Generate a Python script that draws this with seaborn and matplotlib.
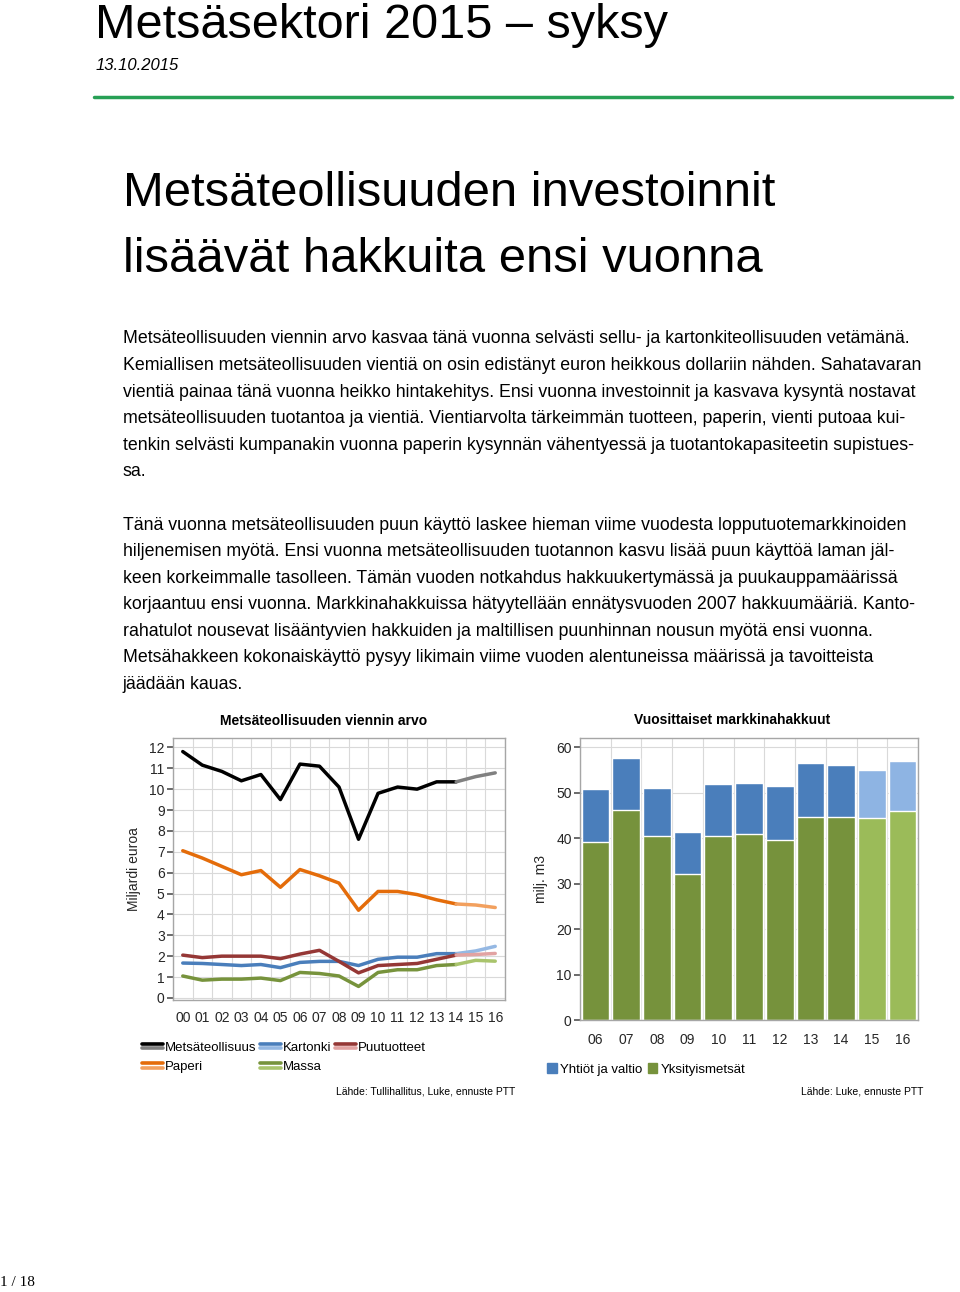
import numpy as np
import pandas as pd
import seaborn as sns
import matplotlib
matplotlib.use("Agg")
import matplotlib.pyplot as plt
from matplotlib.lines import Line2D
from matplotlib.patches import Patch
from matplotlib.legend_handler import HandlerBase

# --- DATA ---
YEARS_EXPORT = ["00", "01", "02", "03", "04", "05", "06", "07", "08",
                "09", "10", "11", "12", "13", "14", "15", "16"]
METSATEOLLISUUS = [11.8, 11.15, 10.85, 10.4, 10.7, 9.5, 11.2, 11.1, 10.1,
                   7.6, 9.8, 10.1, 10.0, 10.35, 10.35, 10.6, 10.78]
PAPERI = [7.05, 6.7, 6.3, 5.9, 6.1, 5.3, 6.15, 5.85, 5.5,
          4.2, 5.1, 5.1, 4.95, 4.7, 4.5, 4.45, 4.33]
PUUTUOTTEET = [2.05, 1.93, 2.0, 2.0, 2.0, 1.88, 2.1, 2.28, 1.75,
               1.2, 1.55, 1.6, 1.65, 1.85, 2.05, 2.08, 2.13]
KARTONKI = [1.67, 1.65, 1.6, 1.55, 1.6, 1.45, 1.7, 1.75, 1.75,
            1.55, 1.85, 1.95, 1.95, 2.12, 2.12, 2.25, 2.47]
MASSA = [1.05, 0.85, 0.9, 0.9, 0.95, 0.83, 1.22, 1.17, 1.05,
         0.55, 1.22, 1.35, 1.35, 1.55, 1.6, 1.8, 1.76]
FORECAST_START = 14  # index of "14": forecast drawn from here on

YEARS_HARVEST = ["06", "07", "08", "09", "10", "11", "12", "13", "14", "15", "16"]
YKSITYISMETSAT = [39.2, 46.2, 40.4, 32.0, 40.5, 40.8, 39.6, 44.6, 44.6, 44.5, 46.0]
YHTIOT_VALTIO = [11.5, 11.4, 10.6, 9.3, 11.4, 11.4, 11.9, 11.9, 11.4, 10.5, 11.0]
HARVEST_FORECAST = ["15", "16"]

SERIES = [
    ("Metsäteollisuus", METSATEOLLISUUS, "#000000", "#808080"),
    ("Paperi", PAPERI, "#e46c0a", "#f2a05e"),
    ("Kartonki", KARTONKI, "#4a7ebb", "#95b8e3"),
    ("Massa", MASSA, "#77933c", "#a9c46c"),
    ("Puutuotteet", PUUTUOTTEET, "#953735", "#e2a3a2"),
]

W, H = 960, 1292
FONT = ["Liberation Sans", "DejaVu Sans"]

sns.set_theme(style="whitegrid")
plt.rcParams["font.family"] = FONT
plt.rcParams["text.color"] = "black"
plt.rcParams["axes.labelcolor"] = "#262626"

fig = plt.figure(figsize=(W / 100, H / 100), dpi=100)


def fx(x):
    return x / W


def fy(y):
    return 1 - y / H


# --- page text ---
fig.text(fx(95), fy(25), "Metsäsektori 2015 – syksy", fontsize=35,
         va="center", ha="left")
fig.text(fx(96), fy(66), "13.10.2015", fontsize=12, style="italic",
         va="center", ha="left")
fig.add_artist(Line2D([fx(94), fx(952)], [fy(97), fy(97)], color="#27a055", lw=2.5))

fig.text(fx(123), fy(194), "Metsäteollisuuden investoinnit", fontsize=35.3,
         va="center", ha="left")
fig.text(fx(123), fy(260), "lisäävät hakkuita ensi vuonna", fontsize=35.3,
         va="center", ha="left")

para1 = [
    "Metsäteollisuuden viennin arvo kasvaa tänä vuonna selvästi sellu- ja kartonkiteollisuuden vetämänä.",
    "Kemiallisen metsäteollisuuden vientiä on osin edistänyt euron heikkous dollariin nähden. Sahatavaran",
    "vientiä painaa tänä vuonna heikko hintakehitys. Ensi vuonna investoinnit ja kasvava kysyntä nostavat",
    "metsäteollisuuden tuotantoa ja vientiä. Vientiarvolta tärkeimmän tuotteen, paperin, vienti putoaa kui-",
    "tenkin selvästi kumpanakin vuonna paperin kysynnän vähentyessä ja tuotantokapasiteetin supistues-",
    "sa.",
]
para2 = [
    "Tänä vuonna metsäteollisuuden puun käyttö laskee hieman viime vuodesta lopputuotemarkkinoiden",
    "hiljenemisen myötä. Ensi vuonna metsäteollisuuden tuotannon kasvu lisää puun käyttöä laman jäl-",
    "keen korkeimmalle tasolleen. Tämän vuoden notkahdus hakkuukertymässä ja puukauppamäärissä",
    "korjaantuu ensi vuonna. Markkinahakkuissa hätyytellään ennätysvuoden 2007 hakkuumääriä. Kanto-",
    "rahatulot nousevat lisääntyvien hakkuiden ja maltillisen puunhinnan nousun myötä ensi vuonna.",
    "Metsähakkeen kokonaiskäyttö pysyy likimain viime vuoden alentuneissa määrissä ja tavoitteista",
    "jäädään kauas.",
]
for i, line in enumerate(para1):
    fig.text(fx(123), fy(339 + i * 26.6), line, fontsize=12.8,
             va="center", ha="left")
for i, line in enumerate(para2):
    fig.text(fx(123), fy(525 + i * 26.6), line, fontsize=12.8,
             va="center", ha="left")

fig.text(fx(0), fy(1282), "1 / 18", fontsize=11, family=["Liberation Serif", "DejaVu Serif"],
         va="center", ha="left")

GRID = "#d9d9d9"
FRAME = "#a6a6a6"


def style_axes(ax, xpad):
    for s in ax.spines.values():
        s.set_color(FRAME)
        s.set_linewidth(1.0)
    ax.tick_params(axis="both", which="both", length=4, color="#595959",
                   labelsize=10, labelcolor="#262626", pad=2)
    ax.tick_params(axis="x", which="major", length=0, pad=xpad)
    ax.tick_params(axis="x", which="minor", length=4, color="#595959")
    ax.tick_params(axis="y", left=True)
    ax.grid(False, which="major", axis="x")
    ax.grid(True, which="minor", axis="x", color=GRID, lw=0.8)
    ax.grid(True, which="major", axis="y", color=GRID, lw=0.8)
    ax.set_axisbelow(True)


# --- left chart: export value ---
ax1 = fig.add_axes([fx(173), fy(1000), fx(505) - fx(173), fy(738) - fy(1000)])
x_pos = np.arange(len(YEARS_EXPORT))
for name, vals, dark, light in SERIES:
    df = pd.DataFrame({"x": x_pos, "v": vals})
    sns.lineplot(data=df[df.x <= FORECAST_START], x="x", y="v", color=dark,
                 lw=2.5, ax=ax1, legend=False)
    sns.lineplot(data=df[df.x >= FORECAST_START], x="x", y="v", color=light,
                 lw=2.5, ax=ax1, legend=False)

ax1.set_xlim(-0.5, 16.5)
ax1.set_ylim(-0.1, 12.45)
ax1.set_xticks(x_pos)
ax1.set_xticklabels(YEARS_EXPORT)
ax1.set_xticks(np.arange(-0.5, 16.6, 1), minor=True)
ax1.set_yticks(range(0, 13))
style_axes(ax1, 8)
ax1.set_xlabel("")
ax1.set_ylabel("Miljardi euroa", fontsize=10, labelpad=6)
fig.text(fx(324), fy(721), "Metsäteollisuuden viennin arvo", fontsize=10,
         fontweight="bold", ha="center", va="center")


class DoubleLine(HandlerBase):
    def create_artists(self, legend, orig_handle, xdescent, ydescent,
                       width, height, fontsize, trans):
        dark, light = orig_handle
        l1 = Line2D([0, width], [height * 0.72, height * 0.72], color=dark, lw=2.6, transform=trans)
        l2 = Line2D([0, width], [height * 0.22, height * 0.22], color=light, lw=2.6, transform=trans)
        return [l1, l2]


handles = [(d, l) for _, _, d, l in SERIES]
labels = [n for n, _, _, _ in SERIES]
fig.legend(handles, labels, handler_map={tuple: DoubleLine()}, ncol=3,
           loc="upper left", bbox_to_anchor=(fx(137), fy(1036)), frameon=False,
           handlelength=1.55, handletextpad=0.2, columnspacing=0.25,
           labelspacing=0.55, borderaxespad=0, prop={"size": 9.5})

fig.text(fx(515), fy(1091), "Lähde: Tullihallitus, Luke, ennuste PTT", fontsize=7.5,
         ha="right", va="center")

# --- right chart: market harvests ---
ax2 = fig.add_axes([fx(580), fy(1020), fx(918) - fx(580), fy(738) - fy(1020)])
hv = pd.DataFrame({"vuosi": YEARS_HARVEST,
                   "yksityis": YKSITYISMETSAT,
                   "yhtiot": YHTIOT_VALTIO})
hv["yhteensa"] = hv["yksityis"] + hv["yhtiot"]
is_fc = hv["vuosi"].isin(HARVEST_FORECAST)
blue_pal = ["#8eb4e3" if f else "#4a7ebb" for f in is_fc]
green_pal = ["#9bbb59" if f else "#76923c" for f in is_fc]

sns.barplot(data=hv, x="vuosi", y="yhteensa", hue="vuosi", palette=blue_pal,
            width=0.9, saturation=1, legend=False, ax=ax2, order=YEARS_HARVEST,
            hue_order=YEARS_HARVEST)
sns.barplot(data=hv, x="vuosi", y="yksityis", hue="vuosi", palette=green_pal,
            width=0.9, saturation=1, legend=False, ax=ax2, order=YEARS_HARVEST,
            hue_order=YEARS_HARVEST)

ax2.set_xlim(-0.5, 10.5)
ax2.set_ylim(0, 62)
ax2.set_yticks(range(0, 61, 10))
ax2.set_xticks(np.arange(-0.5, 10.6, 1), minor=True)
style_axes(ax2, 9)
ax2.set_xlabel("")
ax2.set_ylabel("milj. m3", fontsize=10, labelpad=6)
fig.text(fx(732), fy(720), "Vuosittaiset markkinahakkuut", fontsize=10,
         fontweight="bold", ha="center", va="center")

fig.legend([Patch(color="#4a7ebb"), Patch(color="#76923c")],
           ["Yhtiöt ja valtio", "Yksityismetsät"], ncol=2, loc="upper left",
           bbox_to_anchor=(fx(542), fy(1058)), frameon=False,
           handlelength=0.7, handleheight=0.7, handletextpad=0.3, columnspacing=0.4,
           borderaxespad=0, prop={"size": 9.5})

fig.text(fx(923), fy(1092), "Lähde: Luke, ennuste PTT", fontsize=7.5,
         ha="right", va="center")

fig.savefig("out.png", dpi=100)
